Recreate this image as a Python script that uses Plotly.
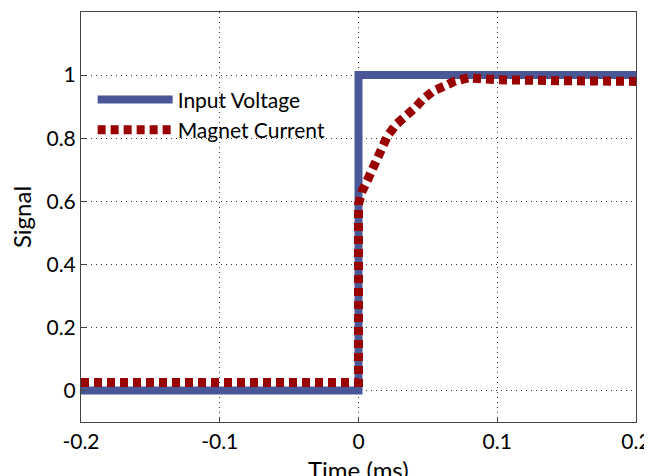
import plotly.graph_objects as go

# Data
input_x = [-0.2, 0.0, 0.0, 0.2]
input_y = [0.0, 0.0, 1.0, 1.0]

current_x = [-0.2, 0.0, 0.0, 0.0023, 0.007, 0.014, 0.021, 0.0275, 0.0335, 0.041,
             0.0465, 0.054, 0.062, 0.0695, 0.079, 0.1, 0.15, 0.2]
current_y = [0.025, 0.025, 0.59, 0.629, 0.672, 0.735, 0.808, 0.845, 0.865, 0.897,
             0.924, 0.95, 0.965, 0.981, 0.991, 0.985, 0.982, 0.98]

x_ticks = [-0.2, -0.1, 0, 0.1, 0.2]
x_tick_labels = ["-0.2", "-0.1", "0", "0.1", "0.2"]
y_ticks = [0, 0.2, 0.4, 0.6, 0.8, 1]
y_tick_labels = ["0", "0.2", "0.4", "0.6", "0.8", "1"]

FONT = "Lato"

fig = go.Figure()
fig.add_trace(go.Scatter(x=input_x, y=input_y, mode="lines", name="Input Voltage",
                         line=dict(color="#4a5796", width=8)))
fig.add_trace(go.Scatter(x=current_x, y=current_y, mode="lines", name="Magnet Current",
                         line=dict(color="#990000", width=9, dash="8px,5px")))

fig.update_layout(
    width=644, height=468,
    margin=dict(l=73, r=16, t=4, b=54),
    paper_bgcolor="white", plot_bgcolor="white",
    font=dict(family=FONT, size=21, color="black"),
    showlegend=True,
    legend=dict(x=0.021, y=0.836, xanchor="left", yanchor="top",
                bgcolor="rgba(255,255,255,0)", font=dict(size=21, family=FONT),
                itemwidth=75, tracegroupgap=0),
    xaxis=dict(range=[-0.2, 0.2], tickvals=x_ticks, ticktext=x_tick_labels,
               showgrid=True, gridcolor="#333", griddash="1px,4px", gridwidth=1,
               showline=True, linecolor="#444", linewidth=1, mirror=True,
               ticks="inside", ticklen=5, tickcolor="#444", ticklabelstandoff=1,
               zeroline=False, automargin=False),
    yaxis=dict(range=[-0.1, 1.2], tickvals=y_ticks, ticktext=y_tick_labels,
               showgrid=True, gridcolor="#333", griddash="1px,4px", gridwidth=1,
               showline=True, linecolor="#444", linewidth=1, mirror=True,
               ticks="inside", ticklen=5, tickcolor="#444",
               zeroline=False, automargin=False),
    annotations=[
        dict(text="Time (ms)", xref="paper", yref="paper", x=0.5, y=-0.076,
             xanchor="center", yanchor="top", showarrow=False,
             font=dict(size=24, family=FONT)),
        dict(text="Signal", xref="paper", yref="paper", x=-0.108, y=0.5,
             xanchor="center", yanchor="middle", showarrow=False, textangle=-90,
             font=dict(size=24, family=FONT)),
    ],
)

fig.write_html("out.html")
